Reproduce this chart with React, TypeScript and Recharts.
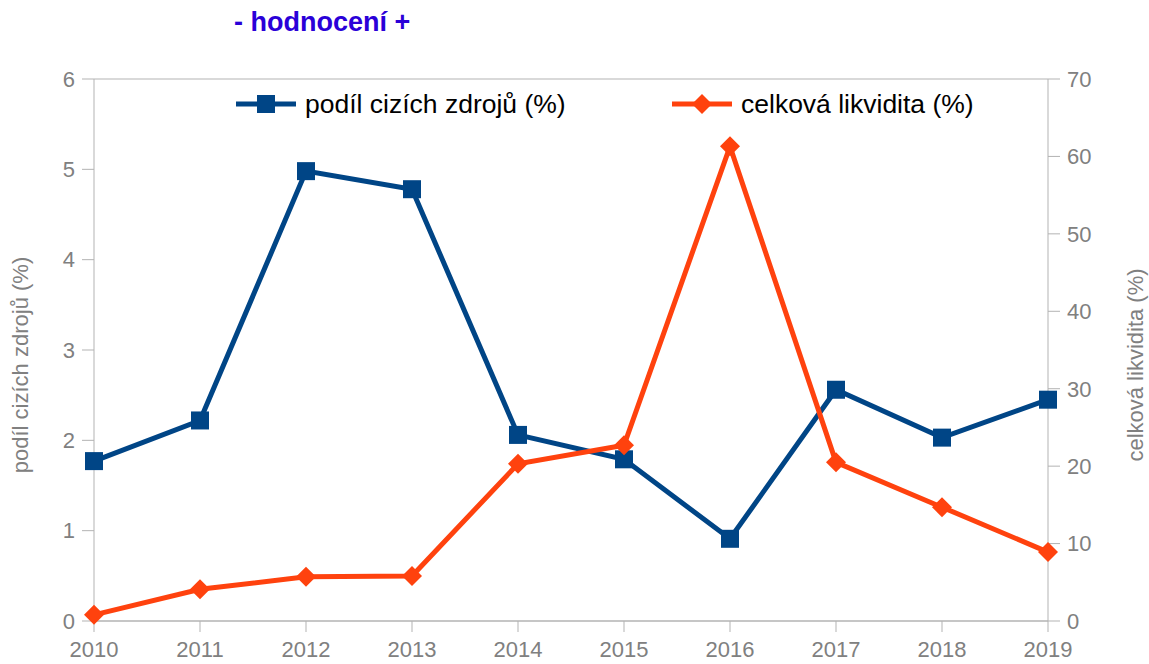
import { LineChart, Line, XAxis, YAxis, CartesianGrid, Label } from "recharts";

const years = ["2010", "2011", "2012", "2013", "2014", "2015", "2016", "2017", "2018", "2019"];
const podil = [1.77, 2.22, 4.98, 4.78, 2.06, 1.79, 0.91, 2.56, 2.03, 2.45];
const likvidita = [0.8, 4.1, 5.7, 5.8, 20.3, 22.7, 61.3, 20.5, 14.7, 8.9];

const data = years.map((y, i) => ({ year: y, podil: podil[i], likvidita: likvidita[i] }));

const BLUE = "#004586";
const ORANGE = "#ff420e";
const GRAY = "#808080";
const FONT = "'Liberation Sans', Arial, sans-serif";

const SquareDot = (props: any) => {
  const { cx, cy } = props;
  if (cx == null || cy == null) return null;
  return <rect x={cx - 9} y={cy - 9} width={18} height={18} fill={BLUE} />;
};

const DiamondDot = (props: any) => {
  const { cx, cy } = props;
  if (cx == null || cy == null) return null;
  return (
    <polygon
      points={`${cx},${cy - 10} ${cx + 10},${cy} ${cx},${cy + 10} ${cx - 10},${cy}`}
      fill={ORANGE}
    />
  );
};

// rotated axis title, placed a bit below the plot's middle like the original
const AxisTitle = ({ x, y, text }: { x: number; y: number; text: string }) => (
  <text
    x={x}
    y={y}
    transform={`rotate(-90, ${x}, ${y})`}
    textAnchor="middle"
    dominantBaseline="central"
    fill={GRAY}
    fontSize={22}
    fontFamily={FONT}
  >
    {text}
  </text>
);

const ChartLegend = () => (
  <div style={{ position: "absolute", left: 0, top: 88, width: 1149, height: 34, fontFamily: FONT, fontSize: 26.5, color: "#000", zIndex: 2 }}>
    <svg width={70} height={30} style={{ position: "absolute", left: 236, top: 1 }}>
      <line x1={0} y1={15} x2={60} y2={15} stroke={BLUE} strokeWidth={5} />
      <rect x={21} y={6} width={18} height={18} fill={BLUE} />
    </svg>
    <span style={{ position: "absolute", left: 305, top: 0, whiteSpace: "nowrap", lineHeight: "32px" }}>podíl cizích zdrojů (%)</span>
    <svg width={70} height={30} style={{ position: "absolute", left: 672, top: 1 }}>
      <line x1={0} y1={15} x2={60} y2={15} stroke={ORANGE} strokeWidth={5} />
      <polygon points="30,5 40,15 30,25 20,15" fill={ORANGE} />
    </svg>
    <span style={{ position: "absolute", left: 741, top: 0, whiteSpace: "nowrap", lineHeight: "32px" }}>celková likvidita (%)</span>
  </div>
);

export default function App() {
  return (
    <div style={{ position: "absolute", left: 0, top: 0, width: 1149, height: 664, background: "#fff" }}>
      <div
        style={{
          position: "absolute",
          left: 234,
          top: 7,
          fontFamily: FONT,
          fontWeight: "bold",
          fontSize: 27,
          color: "#2a00d8",
          zIndex: 2,
        }}
      >
        - hodnocení +
      </div>
      <ChartLegend />
      <LineChart width={1149} height={664} data={data} margin={{ top: 79, right: 0, bottom: 0, left: 0 }}>
        <CartesianGrid vertical={false} stroke="#b3b3b3" />
        <XAxis
          dataKey="year"
          height={43}
          padding={{ left: 0, right: 0 }}
          stroke="#b3b3b3"
          tickSize={11}
          tickMargin={9}
          tick={{ fill: GRAY, fontSize: 22, fontFamily: FONT }}
          interval={0}
        />
        <YAxis
          yAxisId="left"
          domain={[0, 6]}
          ticks={[0, 1, 2, 3, 4, 5, 6]}
          width={94}
          stroke="#b3b3b3"
          tickSize={12}
          tickMargin={7}
          tick={{ fill: GRAY, fontSize: 22, fontFamily: FONT }}
        >
          <Label content={() => <AxisTitle x={20} y={365} text="podíl cizích zdrojů (%)" />} />
        </YAxis>
        <YAxis
          yAxisId="right"
          orientation="right"
          domain={[0, 70]}
          ticks={[0, 10, 20, 30, 40, 50, 60, 70]}
          width={101}
          stroke="#b3b3b3"
          tickSize={12}
          tickMargin={7}
          tick={{ fill: GRAY, fontSize: 22, fontFamily: FONT }}
        >
          <Label content={() => <AxisTitle x={1135} y={365} text="celková likvidita (%)" />} />
        </YAxis>
        <Line
          yAxisId="left"
          dataKey="podil"
          stroke={BLUE}
          strokeWidth={5}
          dot={<SquareDot />}
          activeDot={false}
          isAnimationActive={false}
        />
        <Line
          yAxisId="right"
          dataKey="likvidita"
          stroke={ORANGE}
          strokeWidth={5}
          dot={<DiamondDot />}
          activeDot={false}
          isAnimationActive={false}
        />
      </LineChart>
    </div>
  );
}
